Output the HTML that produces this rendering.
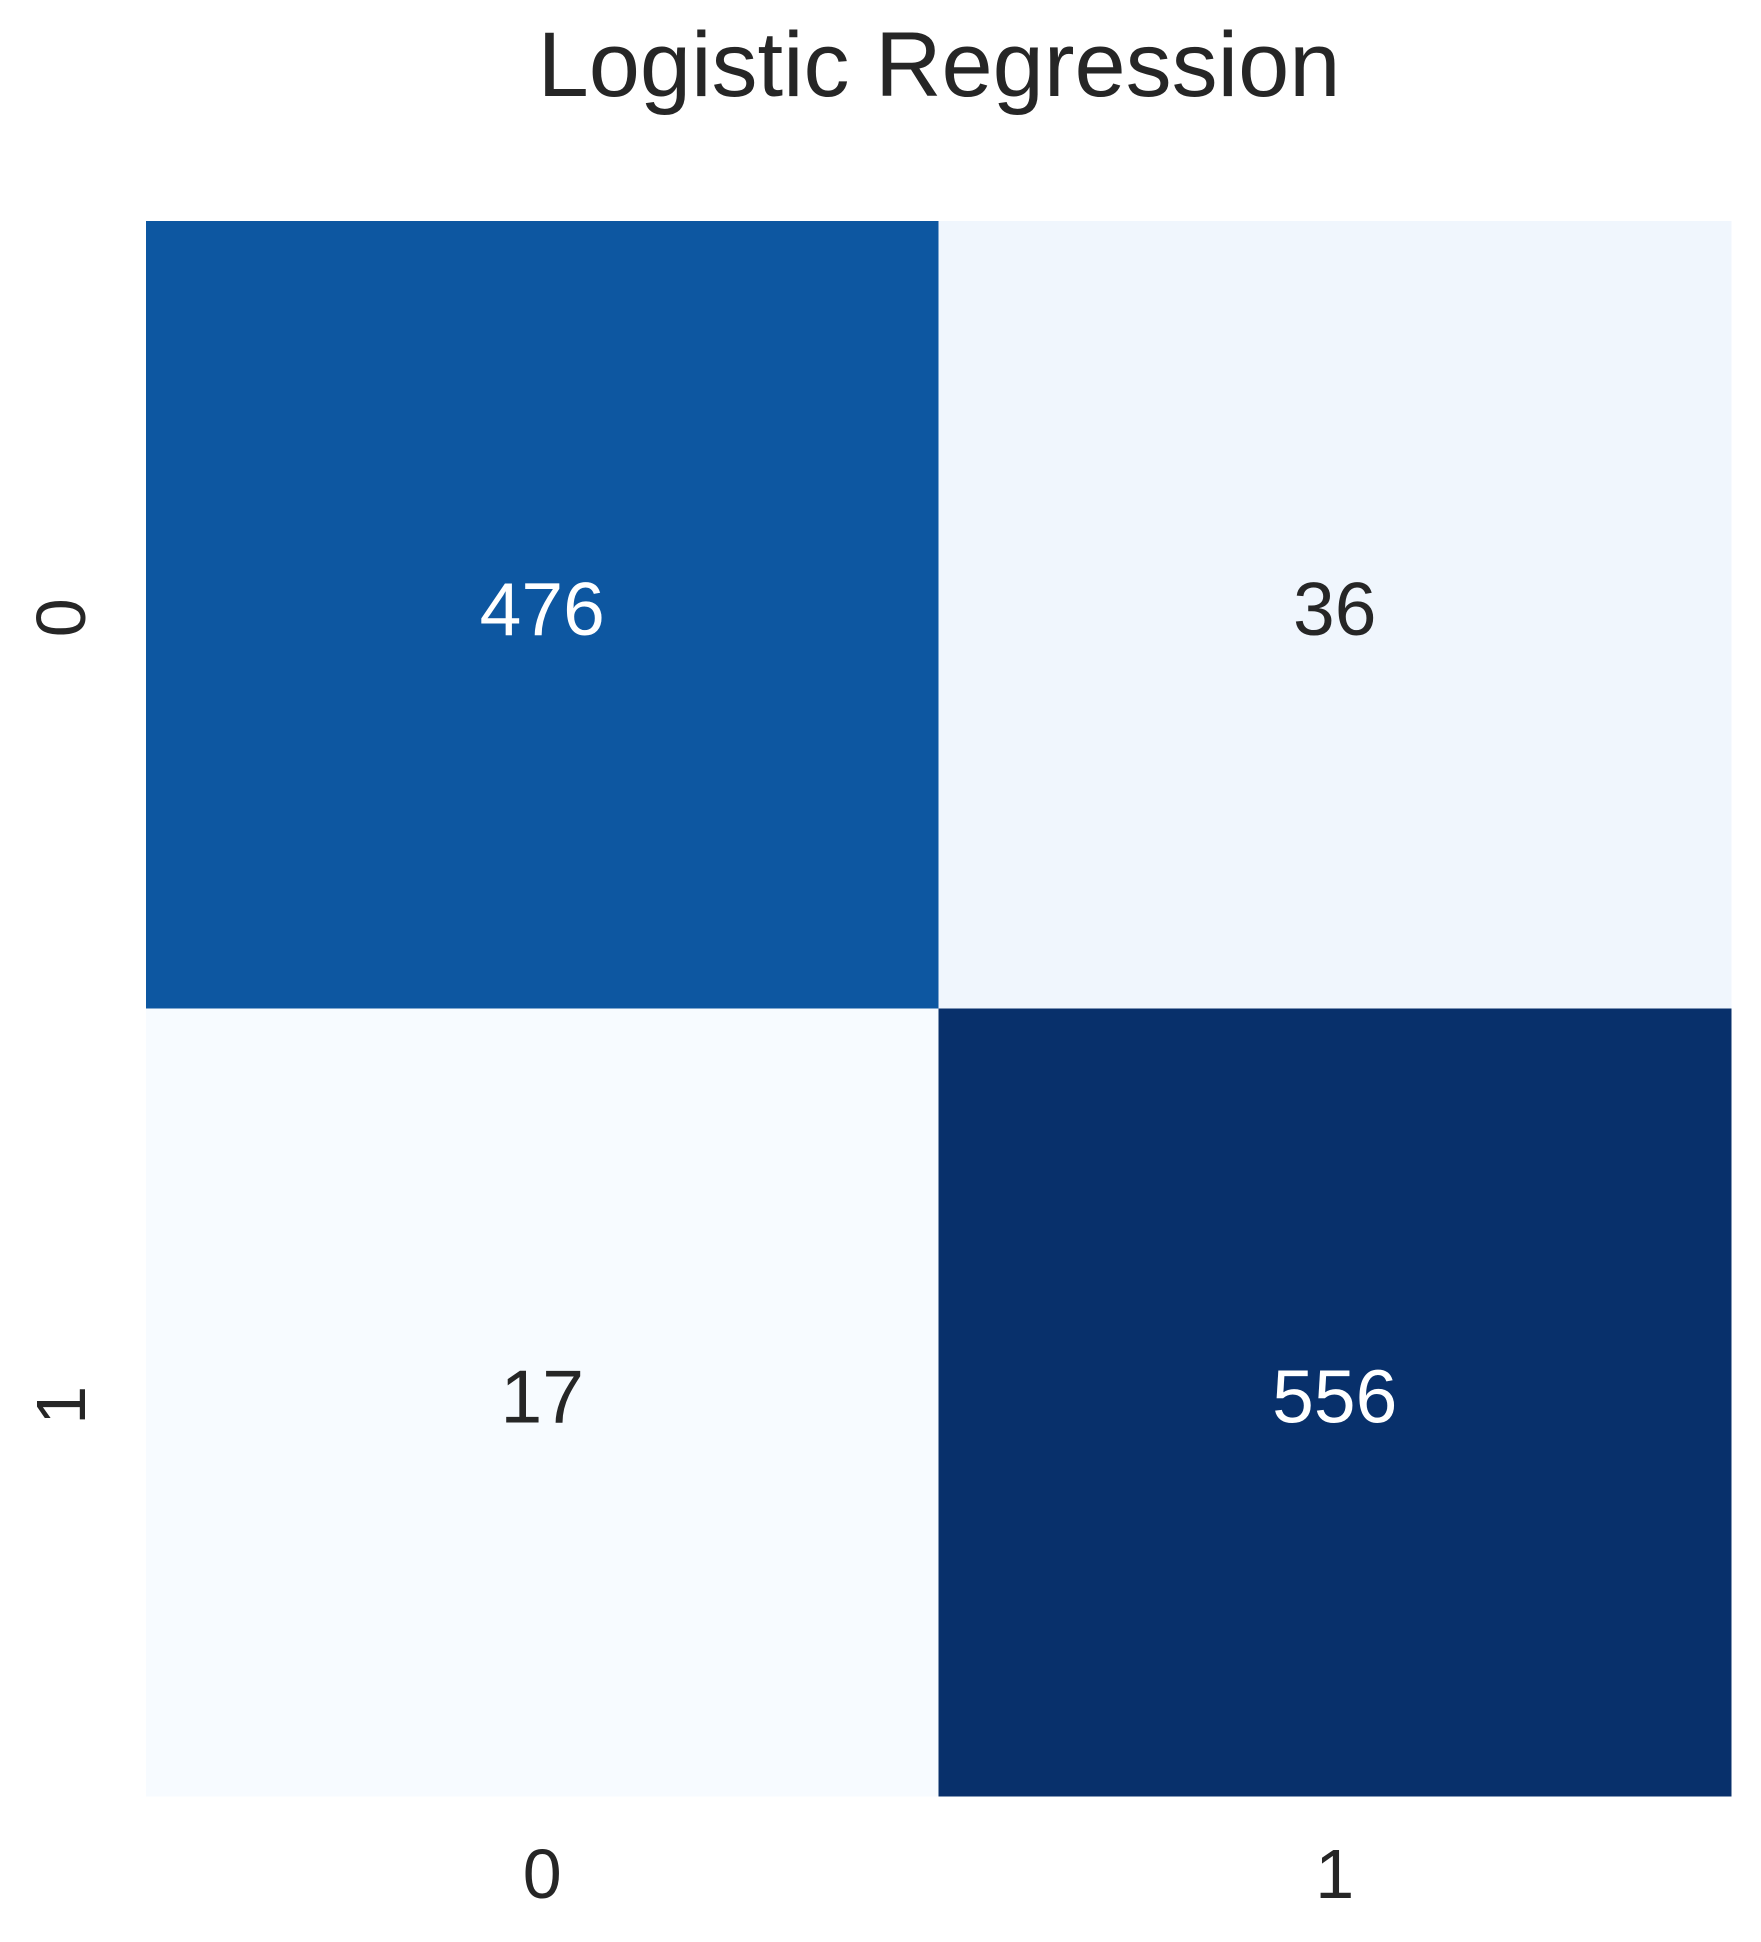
<!DOCTYPE html>
<html><head><meta charset="utf-8"><style>
html,body{margin:0;padding:0;background:#fff;}
svg{display:block;font-family:"Liberation Sans",Arial,sans-serif;}
</style></head><body>
<svg id="chart" width="1761" height="1942" viewBox="0 0 1761 1942" xmlns="http://www.w3.org/2000/svg">
<text x="939" y="96" font-size="92" fill="#262626" text-anchor="middle">Logistic Regression</text>
<g id="cells"></g>
<g id="ticks"></g>
</svg>
<script>
const rowLabels = ["0","1"];
const colLabels = ["0","1"];
const values = [[476,36],[17,556]];

const plotLeft=146, plotRight=1731, plotTop=221, plotBottom=1796;
const nC=colLabels.length, nR=rowLabels.length;
const cw=(plotRight-plotLeft)/nC, ch=(plotBottom-plotTop)/nR;
function xScale(j){return plotLeft+j*cw;}
function yScale(i){return plotTop+i*ch;}
let vmin=Infinity, vmax=-Infinity;
for(const row of values){for(const v of row){if(v<vmin)vmin=v;if(v>vmax)vmax=v;}}
const stops=[[247,251,255],[222,235,247],[198,219,239],[158,202,225],[107,174,214],[66,146,198],[33,113,181],[8,81,156],[8,48,107]];
function color(v){
  let t=(v-vmin)/((vmax-vmin)||1); t=Math.max(0,Math.min(1,t));
  const p=t*(stops.length-1), k=Math.min(Math.floor(p),stops.length-2), f=p-k;
  const c=stops[k].map((a,idx)=>Math.round(a+(stops[k+1][idx]-a)*f));
  return {css:'rgb('+c[0]+','+c[1]+','+c[2]+')',t:t};
}
const NS="http://www.w3.org/2000/svg";
const cellsG=document.getElementById('cells');
const ticksG=document.getElementById('ticks');
for(let i=0;i<nR;i++){for(let j=0;j<nC;j++){
  const c=color(values[i][j]);
  const r=document.createElementNS(NS,'rect');
  
  
  r.setAttribute('x',xScale(j));r.setAttribute('y',yScale(i));
  r.setAttribute('width',cw+0.5);r.setAttribute('height',ch+0.5);
  r.setAttribute('fill',c.css);
  cellsG.appendChild(r);
  const t=document.createElementNS(NS,'text');
  
  
  t.setAttribute('x',xScale(j)+cw/2);t.setAttribute('y',yScale(i)+ch/2+20);
  t.setAttribute('text-anchor','middle');t.setAttribute('font-size','75');
  t.setAttribute('fill',c.t>0.5?'#ffffff':'#262626');
  t.textContent=values[i][j];
  cellsG.appendChild(t);
}}
for(let j=0;j<nC;j++){
  const t=document.createElementNS(NS,'text');
  
  
  t.setAttribute('x',xScale(j)+cw/2);t.setAttribute('y',1898);
  t.setAttribute('text-anchor','middle');t.setAttribute('font-size','70');t.setAttribute('fill','#262626');
  t.textContent=colLabels[j];ticksG.appendChild(t);
}
for(let i=0;i<nR;i++){
  const t=document.createElementNS(NS,'text');
  
  
  const cy=yScale(i)+ch/2+3;
  t.setAttribute('transform','translate(85,'+cy+') rotate(-90)');
  t.setAttribute('text-anchor','middle');t.setAttribute('font-size','70');t.setAttribute('fill','#262626');
  t.textContent=rowLabels[i];ticksG.appendChild(t);
}
</script>
</body></html>
